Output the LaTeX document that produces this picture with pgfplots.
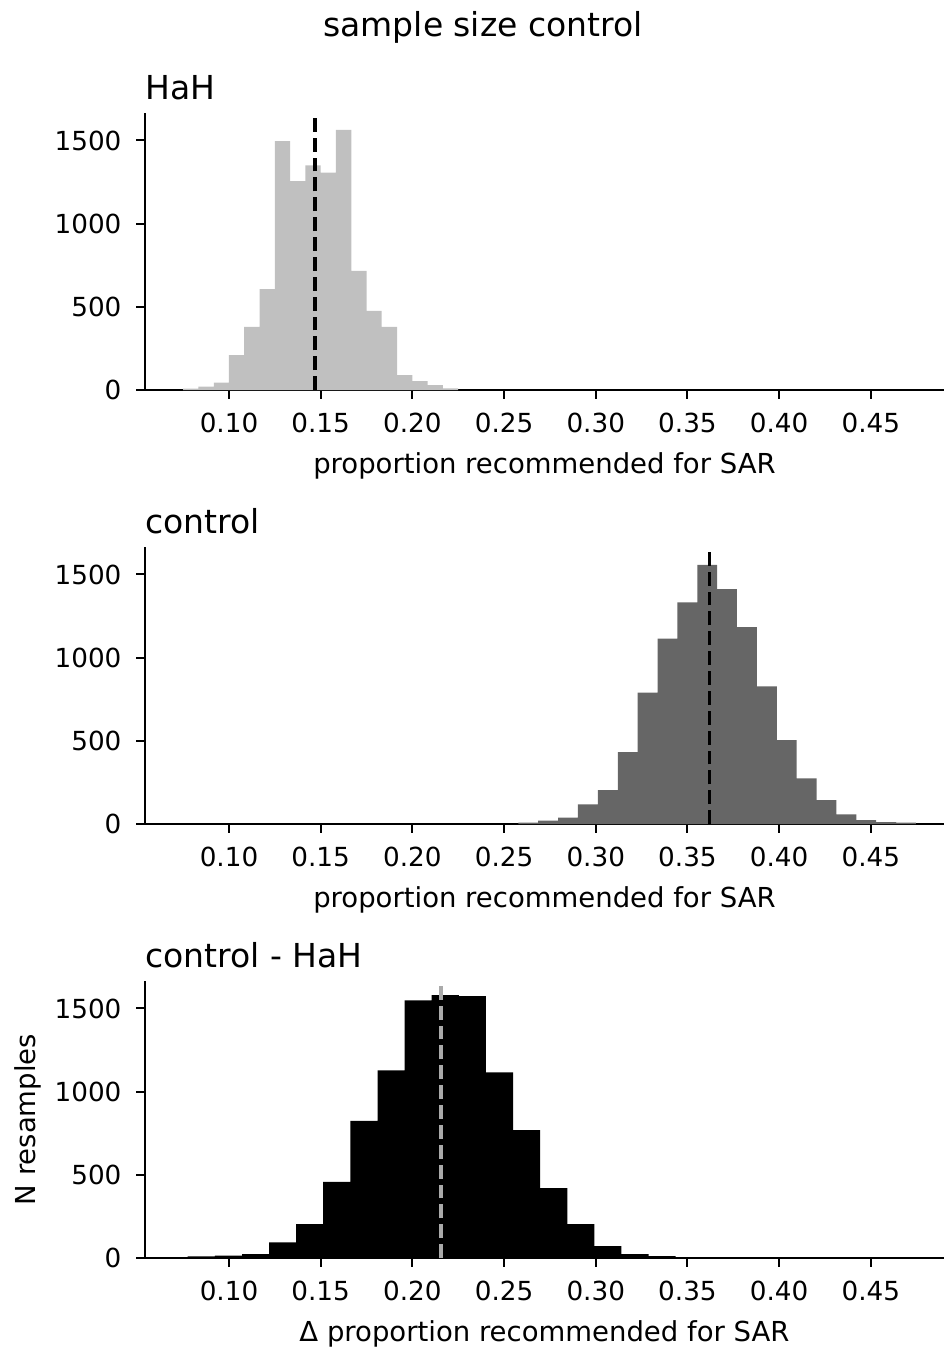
\documentclass[border=0pt]{standalone}
\usepackage{fontspec}
\setmainfont{DejaVu Sans}
\usepackage{pgfplots}
\pgfplotsset{compat=1.18}
\definecolor{hahgray}{HTML}{C0C0C0}
\definecolor{ctrlgray}{HTML}{666666}
\definecolor{meangray}{HTML}{AAAAAA}
\pgfplotsset{
  panel/.style={
    width=319.6pt, height=110.8pt, scale only axis,
    anchor=south west,
    xmin=0.0542, xmax=0.4899, ymin=0, ymax=1665,
    axis x line*=bottom, axis y line*=left,
    every outer x axis line/.append style={-},
    every outer y axis line/.append style={-},
    axis line style={line width=0.8pt, black},
    tick align=outside, major tick length=3.5pt,
    tick style={line width=0.8pt, black},
    xtick={0.10,0.15,0.20,0.25,0.30,0.35,0.40,0.45},
    xticklabels={0.10,0.15,0.20,0.25,0.30,0.35,0.40,0.45},
    ytick={0,500,1000,1500},
    yticklabels={0,500,1000,1500},
    /pgf/number format/assume math mode=true,
    tick label style={font=\fontsize{10.5}{12}\selectfont},
    xticklabel style={anchor=base, yshift=-13.3pt},
    yticklabel style={anchor=east, xshift=-2.4pt},
    label style={font=\fontsize{11}{13}\selectfont},
    xlabel style={at={(axis description cs:0.5,0)}, anchor=base, yshift=-33.2pt},
    title style={at={(axis description cs:0,1)}, anchor=base west, inner xsep=0pt, yshift=-0.4pt, font=\fontsize{13.2}{15}\selectfont},
    clip=false,
  },
  meanline/.style={line width=1.5pt, dash pattern=on 5.55pt off 2.4pt},
}
\begin{document}
\begin{tikzpicture}
\path[use as bounding box] (0,0) rectangle (378pt,-539.2pt);
\node[anchor=base, font=\fontsize{13.2}{15}\selectfont] at (193.2pt,-14.4pt) {sample size control};

% Panel 1: HaH
\begin{axis}[panel, at={(58pt,-156pt)}, title={HaH}, xlabel={proportion recommended for SAR}]
\addplot[const plot, fill=hahgray, draw=none] coordinates {
(0.0750,8) (0.0833,20) (0.0917,44) (0.1000,210) (0.1083,380) (0.1167,606)
(0.1250,1496) (0.1333,1256) (0.1417,1350) (0.1500,1306) (0.1583,1564)
(0.1667,716) (0.1750,476) (0.1833,380) (0.1917,90) (0.2000,54)
(0.2083,30) (0.2167,10) (0.2250,10)
} \closedcycle;
\addplot[meanline, black] coordinates {(0.147,0) (0.147,1665)};
\end{axis}

% Panel 2: control
\begin{axis}[panel, at={(58pt,-329.6pt)}, title={control}, xlabel={proportion recommended for SAR}]
\addplot[const plot, fill=ctrlgray, draw=none] coordinates {
(0.2578,8) (0.2686,20) (0.2795,38) (0.2903,118) (0.3012,204) (0.3120,432)
(0.3228,790) (0.3337,1114) (0.3445,1332) (0.3554,1558) (0.3662,1412)
(0.3770,1184) (0.3879,828) (0.3987,504) (0.4096,274) (0.4204,144)
(0.4312,58) (0.4421,24) (0.4529,12) (0.4638,8) (0.4746,8)
} \closedcycle;
\addplot[meanline, black] coordinates {(0.362,0) (0.362,1665)};
\end{axis}

% Panel 3: control - HaH
\begin{axis}[panel, at={(58pt,-503.2pt)}, title={control - HaH},
  xlabel={Δ proportion recommended for SAR}, ylabel={N resamples},
  ylabel style={at={(axis description cs:-0.1464,0.5)}, anchor=center, rotate=0}]
\addplot[const plot, fill=black, draw=none] coordinates {
(0.0775,10) (0.0923,14) (0.1071,24) (0.1219,94) (0.1366,204) (0.1514,458)
(0.1662,824) (0.1810,1128) (0.1958,1548) (0.2105,1580) (0.2253,1574)
(0.2401,1116) (0.2549,768) (0.2697,420) (0.2845,204) (0.2992,72)
(0.3140,24) (0.3288,12) (0.3436,12)
} \closedcycle;
\addplot[meanline, meangray] coordinates {(0.2155,0) (0.2155,1665)};
\end{axis}
\end{tikzpicture}
\end{document}
